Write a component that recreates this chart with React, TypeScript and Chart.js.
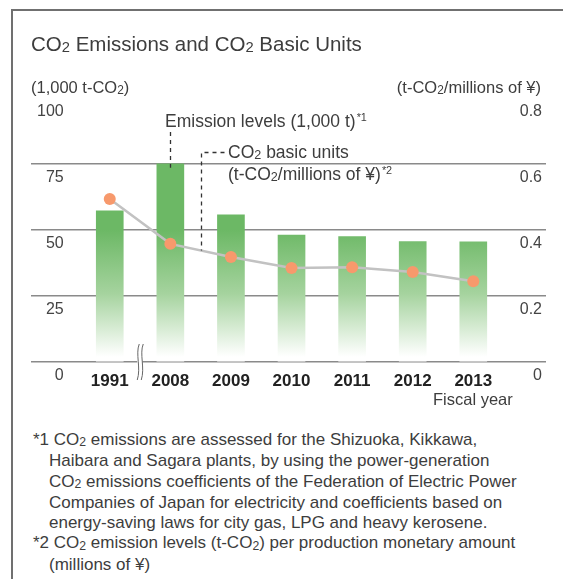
import React, { useEffect, useRef } from "react";
import { Chart, registerables } from "chart.js";
Chart.register(...registerables);

const years = ["1991", "2008", "2009", "2010", "2011", "2012", "2013"];
const emissions = [57.3, 75.1, 55.7, 48.1, 47.5, 45.6, 45.5];
const basicUnits = [0.494, 0.358, 0.318, 0.285, 0.287, 0.273, 0.245];
const leftTicks = [0, 25, 50, 75, 100];
const rightTicks = [0, 0.2, 0.4, 0.6, 0.8];

const FONT = '"Liberation Sans", Arial, sans-serif';
const TEXT = "#3d3d3d";

const Sub = ({ c }: { c: string }) => (
  <span style={{ fontSize: "0.72em", position: "relative", top: "0.1em" }}>{c}</span>
);
const Sup = ({ c }: { c: string }) => (
  <span style={{ fontSize: "0.62em", position: "relative", top: "-0.55em", marginLeft: "1px" }}>{c}</span>
);

const decorPlugin = {
  id: "decor",
  afterDraw(chart: any) {
    const ctx = chart.ctx;
    const x = chart.scales.x;
    const y = chart.scales.y;
    const y1 = chart.scales.y1;
    ctx.save();
    // dashed leader lines
    ctx.strokeStyle = "#333";
    ctx.lineWidth = 1.3;
    ctx.setLineDash([4, 4]);
    const x1 = Math.round(x.getPixelForValue(1)) + 0.5;
    ctx.beginPath();
    ctx.moveTo(x1, 132);
    ctx.lineTo(x1, y.getPixelForValue(emissions[1]) + 4);
    ctx.stroke();
    const x2 = Math.round(x.getPixelForValue(1.5)) + 0.5;
    const yl = y1.getPixelForValue((basicUnits[1] + basicUnits[2]) / 2);
    ctx.beginPath();
    ctx.moveTo(x2 + 23, 152.5);
    ctx.lineTo(x2, 152.5);
    ctx.lineTo(x2, yl);
    ctx.stroke();
    ctx.setLineDash([]);
    // axis break
    const xb = x.getPixelForValue(0.47);
    const y0 = y.getPixelForValue(0);
    ctx.fillStyle = "#fff";
    ctx.fillRect(xb - 1, y0 - 3, 5, 6);
    ctx.strokeStyle = "#666";
    ctx.lineWidth = 1;
    for (const dx of [0, 4]) {
      ctx.beginPath();
      ctx.moveTo(xb + dx + 1, y0 - 18);
      ctx.bezierCurveTo(xb + dx - 3, y0 - 8, xb + dx + 3, y0 + 6, xb + dx - 1, y0 + 18);
      ctx.stroke();
    }
    ctx.restore();
  },
};

export default function App() {
  const ref = useRef<HTMLCanvasElement>(null);
  useEffect(() => {
    document.body.style.margin = "0";
    const canvas = ref.current!;
    const barFill = (c: any) => {
      const chart = c.chart;
      const ys = chart.scales.y;
      if (!ys || !chart.chartArea) return "#6cb865";
      const g = chart.ctx.createLinearGradient(0, ys.getPixelForValue(50), 0, ys.getPixelForValue(2));
      g.addColorStop(0, "#6cb865");
      g.addColorStop(0.5, "#a5d39e");
      g.addColorStop(1, "#ffffff");
      return g;
    };
    const chart = new Chart(canvas, {
      type: "bar",
      data: {
        datasets: [
          {
            type: "line",
            label: "CO2 basic units",
            data: basicUnits.map((v, i) => ({ x: i, y: v })),
            yAxisID: "y1",
            borderColor: "#c2c2c2",
            borderWidth: 2.5,
            pointRadius: 6,
            pointBackgroundColor: "#f7996c",
            pointBorderWidth: 0,
            order: 0,
          } as any,
          {
            type: "bar",
            label: "Emission levels",
            data: emissions.map((v, i) => ({ x: i, y: v })),
            yAxisID: "y",
            backgroundColor: barFill,
            barThickness: 27,
            order: 1,
          },
        ],
      },
      options: {
        animation: false,
        responsive: false,
        devicePixelRatio: 1,
        layout: { padding: { left: 31, right: 17, top: 98, bottom: 8 } },
        plugins: { legend: { display: false }, tooltip: { enabled: false } },
        scales: {
          x: {
            type: "linear",
            min: -1.3,
            max: 7.2,
            offset: false,
            grid: { display: false },
            border: { display: false },
            afterBuildTicks: (s: any) => {
              s.ticks = years.map((_, i) => ({ value: i }));
            },
            afterFit: (s: any) => {
              s.height = 30;
            },
            ticks: {
              autoSkip: false,
              maxRotation: 0,
              padding: 1,
              color: "#222",
              font: { family: FONT, size: 17, weight: "bold" },
              callback: (v: any) => years[v] ?? "",
            },
          },
          y: {
            position: "left",
            min: 0,
            max: 100,
            afterBuildTicks: (s: any) => {
              s.ticks = leftTicks.map((v) => ({ value: v }));
            },
            afterFit: (s: any) => {
              s.width = 0;
            },
            border: { display: false },
            grid: {
              drawTicks: false,
              lineWidth: 1.5,
              color: (c: any) => (c.tick && c.tick.value === 100 ? "rgba(0,0,0,0)" : "#8a8a8a"),
            },
            ticks: {
              mirror: true,
              crossAlign: "far",
              padding: 6,
              labelOffset: 14,
              color: "#444",
              font: { family: FONT, size: 16 },
            },
          },
          y1: {
            position: "right",
            min: 0,
            max: 0.8,
            afterBuildTicks: (s: any) => {
              s.ticks = rightTicks.map((v) => ({ value: v }));
            },
            afterFit: (s: any) => {
              s.width = 0;
            },
            border: { display: false },
            grid: { display: false, drawTicks: false },
            ticks: {
              mirror: true,
              crossAlign: "near",
              padding: -4,
              labelOffset: 14,
              color: "#444",
              font: { family: FONT, size: 16 },
              callback: (v: any) => (v === 0 ? "0" : Number(v).toFixed(1)),
            },
          },
        },
      },
      plugins: [decorPlugin],
    });
    return () => chart.destroy();
  }, []);

  const abs = (top: number, left: number | undefined, fs: number, extra: any = {}) => ({
    position: "absolute" as const,
    top,
    left,
    fontSize: fs,
    lineHeight: 1,
    whiteSpace: "nowrap" as const,
    color: TEXT,
    fontFamily: FONT,
    ...extra,
  });

  return (
    <div style={{ position: "relative", width: 563, height: 579, background: "#fff", overflow: "hidden" }}>
      <div
        style={{
          position: "absolute",
          left: 11,
          top: 9,
          width: 600,
          height: 600,
          borderTop: "2px solid #707070",
          borderLeft: "2px solid #707070",
        }}
      />
      <canvas ref={ref} width={563} height={400} style={{ position: "absolute", left: 0, top: 0 }} />
      <div style={abs(34, 31, 20.5)}>
        CO<Sub c="2" /> Emissions and CO<Sub c="2" /> Basic Units
      </div>
      <div style={abs(79, 31, 16.5)}>
        (1,000 t-CO<Sub c="2" />)
      </div>
      <div style={abs(79, undefined, 16.5, { right: 22 })}>
        (t-CO<Sub c="2" />/millions of ¥)
      </div>
      <div style={abs(112.5, 165, 17.5)}>
        Emission levels (1,000 t)
        <Sup c="*1" />
      </div>
      <div style={abs(143.5, 228, 17.5)}>
        CO<Sub c="2" /> basic units
      </div>
      <div style={abs(165.5, 228, 17.5)}>
        (t-CO<Sub c="2" />/millions of ¥)
        <Sup c="*2" />
      </div>
      <div style={abs(391, 433, 16.5)}>Fiscal year</div>
      <div
        style={{
          position: "absolute",
          top: 430,
          left: 33,
          fontSize: 17,
          lineHeight: "20.3px",
          color: TEXT,
          fontFamily: FONT,
          whiteSpace: "nowrap",
        }}
      >
        <div>
          *1 CO<Sub c="2" /> emissions are assessed for the Shizuoka, Kikkawa,
        </div>
        <div style={{ paddingLeft: 16 }}>Haibara and Sagara plants, by using the power-generation</div>
        <div style={{ paddingLeft: 16 }}>
          CO<Sub c="2" /> emissions coefficients of the Federation of Electric Power
        </div>
        <div style={{ paddingLeft: 16 }}>Companies of Japan for electricity and coefficients based on</div>
        <div style={{ paddingLeft: 16 }}>energy-saving laws for city gas, LPG and heavy kerosene.</div>
        <div>
          *2 CO<Sub c="2" /> emission levels (t-CO<Sub c="2" />) per production monetary amount
        </div>
        <div style={{ paddingLeft: 16 }}>(millions of ¥)</div>
      </div>
    </div>
  );
}
